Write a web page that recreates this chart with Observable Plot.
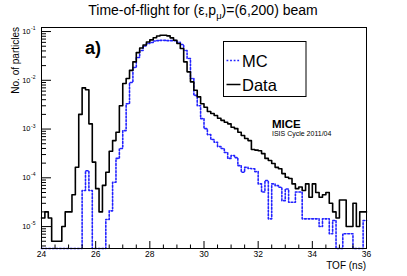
<!DOCTYPE html>
<html><head><meta charset="utf-8">
<script src="https://cdn.jsdelivr.net/npm/d3@7"></script>
<script src="https://cdn.jsdelivr.net/npm/@observablehq/plot@0.6"></script>
<style>body{margin:0;background:#fff} svg{display:block}</style>
</head><body><div id="chart"></div>
<script>
// Histogram binning (TOF, ns)
const tofMin = 24, tofMax = 36, binWidth = 0.125;
// Data histogram (black), 96 bins of 0.125 ns
const dataCounts = [
1.5e-5, 2e-5, 1.5e-5, 5e-6, 5e-6, 5e-6, 1e-5, 2e-5, 2e-5, 4.5e-5,
1.65e-4, 2.0e-3, 7.0e-3, 6.4e-3, 1.28e-3, 2.1e-4, 6.0e-5, 2e-5, 7e-5, 1.3e-4,
3.5e-4, 5.8e-4, 8.6e-4, 3.0e-3, 8.6e-3, 1.09e-2, 1.6e-2, 2.39e-2, 3.7e-2, 4.59e-2,
5.28e-2, 6.09e-2, 6.76e-2, 7.46e-2, 8.09e-2, 8.4e-2, 8.4e-2, 8.16e-2, 7.43e-2, 6.64e-2,
5.68e-2, 4.48e-2, 2.39e-2, 1.49e-2, 9.3e-3, 6.25e-3, 4.58e-3, 3.3e-3, 2.8e-3, 2.29e-3,
2.08e-3, 1.89e-3, 1.67e-3, 1.51e-3, 1.38e-3, 1.28e-3, 1.09e-3, 1.02e-3, 8.6e-4, 7.4e-4,
6.4e-4, 5.8e-4, 3.8e-4, 3.7e-4, 3.6e-4, 3.14e-4, 2.5e-4, 2.26e-4, 1.96e-4, 1.64e-4,
1.53e-4, 1.22e-4, 1.03e-4, 9.7e-5, 7.5e-5, 6e-5, 6.5e-5, 5.5e-5, 7.5e-5, 4e-5,
7.5e-5, 5e-5, 4e-5, 4.5e-5, 5e-5, 3e-5, 2e-5, 1.5e-5, 3.5e-5, 3.5e-5,
1e-5, 1e-5, 3e-5, 1e-5, 2e-5, 2e-5
];
// MC histogram (blue dotted)
const mcCounts = [
0, 0, 0, 0, 0, 0, 0, 0, 0, 0,
0, 0, 5.5e-5, 1.4e-4, 5.5e-5, 0, 0, 0, 0, 1.4e-5,
2.1e-5, 8.1e-5, 2.5e-4, 4.0e-4, 9.3e-4, 3.3e-3, 9.0e-3, 1.83e-2, 2.93e-2, 4.07e-2,
5.05e-2, 5.68e-2, 5.94e-2, 6.4e-2, 6.5e-2, 6.6e-2, 6.6e-2, 6.5e-2, 6.5e-2, 6.5e-2,
6.04e-2, 5.41e-2, 4.07e-2, 2.79e-2, 1.09e-2, 4.9e-3, 3.0e-3, 1.64e-3, 1.02e-3, 7.7e-4,
6.1e-4, 5.36e-4, 4.37e-4, 4.0e-4, 3.3e-4, 2.5e-4, 2.86e-4, 2.6e-4, 1.78e-4, 1.3e-4,
1.64e-4, 1.55e-4, 1.53e-4, 1.34e-4, 7.5e-5, 5.1e-5, 8.8e-5, 1.44e-5, 7.5e-5, 6.9e-5,
6.4e-5, 3.4e-5, 5.9e-5, 3.15e-5, 3.15e-5, 5.1e-5, 5.1e-5, 1.44e-5, 1.44e-5, 1.44e-5,
1.44e-5, 1.44e-5, 1e-5, 1.44e-5, 1.44e-5, 7.1e-6, 1.33e-5, 0, 0, 7.1e-6,
7.1e-6, 7.1e-6, 0, 0, 0, 1.33e-5
];
const yMin = 3.55e-6, yMax = 0.121;
const xMajorTicks = [24, 26, 28, 30, 32, 34, 36];
const xMinorTicks = d3.range(24, 36.01, 0.5).filter(v => !xMajorTicks.includes(v));
const yMajorTicks = [1e-5, 1e-4, 1e-3, 1e-2, 1e-1];
const yMinorTicks = [];
for (const d of [1e-6, ...yMajorTicks]) for (let k = 2; k <= 9; k++) { const v = k * d; if (v > yMin && v < yMax) yMinorTicks.push(v); }

function steps(values) {
  const pts = values.map((v, i) => ({x: tofMin + i * binWidth, y: Math.max(v, yMin)}));
  pts.push({x: tofMax, y: Math.max(values[values.length - 1], yMin)});
  return pts;
}
const mcPts = steps(mcCounts), dataPts = steps(dataCounts);

const W = 407, H = 276, mL = 41, mR = 41, mT = 27, mB = 28;
const fw = W - mL - mR, fh = H - mT - mB;
const font = "'Liberation Sans', Arial, Helvetica, sans-serif";
const mcColor = "#2222ff", mcDash = "1.8,1.8";

const chart = Plot.plot({
  width: W, height: H,
  marginLeft: mL, marginRight: mR, marginTop: mT, marginBottom: mB,
  x: {domain: [tofMin, tofMax], axis: null},
  y: {type: "log", domain: [yMin, yMax], axis: null},
  style: {fontFamily: font, background: "white", color: "black", overflow: "visible"},
  marks: [
    Plot.line(mcPts, {x: "x", y: "y", curve: "step-after", stroke: mcColor, strokeWidth: 1.6, strokeDasharray: mcDash}),
    Plot.line(dataPts, {x: "x", y: "y", curve: "step-after", stroke: "black", strokeWidth: 1.6}),
    Plot.frame({stroke: "black", strokeWidth: 1}),
    Plot.tickY(yMajorTicks, {y: d => d, insetRight: fw - 10, stroke: "black"}),
    Plot.tickY(yMinorTicks, {y: d => d, insetRight: fw - 5, stroke: "black"}),
    Plot.tickX(xMajorTicks, {x: d => d, insetTop: fh - 7, stroke: "black"}),
    Plot.tickX(xMinorTicks, {x: d => d, insetTop: fh - 3.5, stroke: "black"}),
    Plot.text(yMajorTicks, {x: tofMin, y: d => d, text: () => "10", dx: -11, textAnchor: "end", fontSize: 7.5, fill: "black"}),
    Plot.text(yMajorTicks, {x: tofMin, y: d => d, text: d => String(Math.round(Math.log10(d))), dx: -10.5, dy: -3, textAnchor: "start", fontSize: 5, fill: "black"}),
    Plot.text(xMajorTicks, {x: d => d, y: yMin, text: d => String(d), dy: 5.5, lineAnchor: "middle", fontSize: 8.5, fill: "black"})
  ]
});
document.getElementById("chart").appendChild(chart);

const svg = d3.select(chart);
function label(x, y, str, size, opts = {}) {
  return svg.append("text").attr("x", x).attr("y", y).attr("text-anchor", opts.anchor || "start")
    .attr("font-size", size).attr("font-weight", opts.weight || "normal")
    .attr("font-family", font).attr("fill", "black").text(str);
}
// Title
const t = svg.append("text").attr("x", 203).attr("y", 15).attr("text-anchor", "middle")
  .attr("font-size", 14).attr("font-family", font).attr("fill", "black");
t.append("tspan").text("Time-of-flight for (ε,p");
t.append("tspan").attr("dy", 4).attr("font-size", 9.5).text("μ");
t.append("tspan").attr("dy", -4).text(")=(6,200) beam");
// Axis titles
svg.append("text").attr("transform", "translate(19,27) rotate(-90)").attr("text-anchor", "end")
  .attr("font-size", 10).attr("font-family", font).attr("fill", "black").text("No. of particles");
label(366, 268.5, "TOF (ns)", 10, {anchor: "end"});
// Panel label
label(85, 54, "a)", 18, {weight: "bold"});
// Legend
const lg = svg.append("g");
lg.append("rect").attr("x", 223.5).attr("y", 41.5).attr("width", 82.5).attr("height", 55)
  .attr("fill", "white").attr("stroke", "black").attr("stroke-width", 1);
lg.append("line").attr("x1", 226.5).attr("x2", 240.5).attr("y1", 60.5).attr("y2", 60.5)
  .attr("stroke", mcColor).attr("stroke-width", 1.6).attr("stroke-dasharray", mcDash);
lg.append("line").attr("x1", 226.5).attr("x2", 240.5).attr("y1", 84.5).attr("y2", 84.5)
  .attr("stroke", "black").attr("stroke-width", 1.5);
label(242, 66.5, "MC", 16.5);
label(242, 90.5, "Data", 16.5);
// Experiment label
label(272, 128, "MICE", 11.5, {weight: "bold"});
label(272, 136, "ISIS Cycle 2011/04", 7);
</script></body></html>
